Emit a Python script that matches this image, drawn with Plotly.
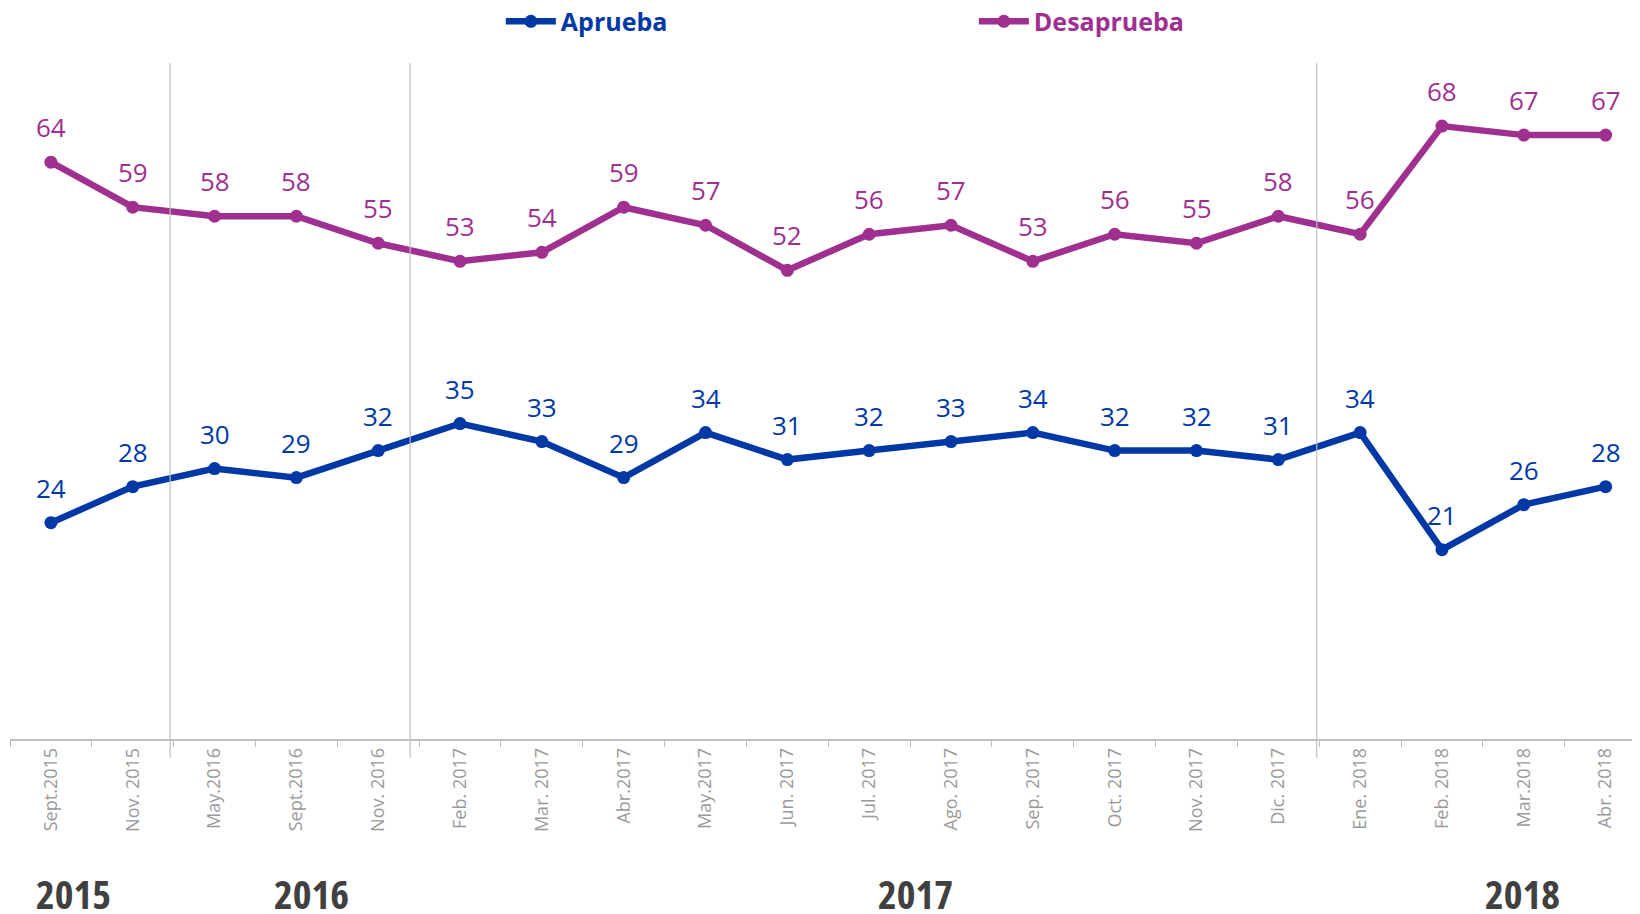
import plotly.graph_objects as go

categories = ["Sept.2015", "Nov. 2015", "May.2016", "Sept.2016", "Nov. 2016",
              "Feb. 2017", "Mar. 2017", "Abr.2017", "May.2017", "Jun. 2017",
              "Jul. 2017", "Ago. 2017", "Sep. 2017", "Oct. 2017", "Nov. 2017",
              "Dic. 2017", "Ene. 2018", "Feb. 2018", "Mar.2018", "Abr. 2018"]
aprueba = [24, 28, 30, 29, 32, 35, 33, 29, 34, 31, 32, 33, 34, 32, 32, 31, 34, 21, 26, 28]
desaprueba = [64, 59, 58, 58, 55, 53, 54, 59, 57, 52, 56, 57, 53, 56, 55, 58, 56, 68, 67, 67]
years = ["2015", "2016", "2017", "2018"]

BLUE = "#0039A6"
PURPLE = "#A0308F"

fig = go.Figure()
for name, vals, col in [("Aprueba", aprueba, BLUE), ("Desaprueba", desaprueba, PURPLE)]:
    fig.add_trace(go.Scatter(
        x=categories, y=vals,
        name=f"<span style='color:{col}'>{name}</span>",
        mode="lines+markers",
        line=dict(color=col, width=6.5),
        marker=dict(color=col, size=13),
        hovertemplate=name + ": %{y}<extra></extra>",
    ))

annotations = []
for vals, col in [(aprueba, BLUE), (desaprueba, PURPLE)]:
    for i, v in enumerate(vals):
        annotations.append(dict(
            x=i, y=v, xref="x", yref="y", text=str(v), showarrow=False,
            yshift=35, font=dict(family="Open Sans", size=26, color=col),
        ))

year_pos = [0.28, 3.19, 10.57, 17.98]
for yr, xp in zip(years, year_pos):
    annotations.append(dict(
        x=xp, y=-0.228, xref="x", yref="paper",
        text=f"<span style='font-stretch:condensed'>{yr}</span>",
        showarrow=False, yanchor="middle",
        font=dict(family="Liberation Sans Narrow, Open Sans", size=40,
                  color="#404040", weight="bold"),
    ))

shapes = []
for xs in [1.457, 4.39, 15.47]:
    shapes.append(dict(type="line", xref="x", yref="paper", x0=xs, x1=xs,
                       y0=-0.028, y1=1.0, line=dict(color="#BFBFBF", width=1.2)))

fig.update_layout(
    width=1632, height=906,
    margin=dict(l=2, r=0, t=55, b=175),
    plot_bgcolor="white", paper_bgcolor="white",
    showlegend=True,
    legend=dict(orientation="h", xref="container", yref="container",
                x=0.302, y=0.985, xanchor="left", yanchor="middle",
                entrywidth=408,
                font=dict(family="Open Sans", size=25, weight="bold"),
                itemwidth=50),
    annotations=annotations,
    shapes=shapes,
    xaxis=dict(type="category", range=[-0.5, 19.42], showgrid=False,
               showline=True, linecolor="#BFBFBF", linewidth=1.5,
               ticks="outside", tickson="boundaries", ticklen=6, tickcolor="#BFBFBF",
               tickangle=-90,
               tickfont=dict(family="Open Sans", size=18, color="#9A9A9A")),
    yaxis=dict(range=[0, 75], visible=False, showgrid=False, zeroline=False),
)

fig.write_html("out.html")
